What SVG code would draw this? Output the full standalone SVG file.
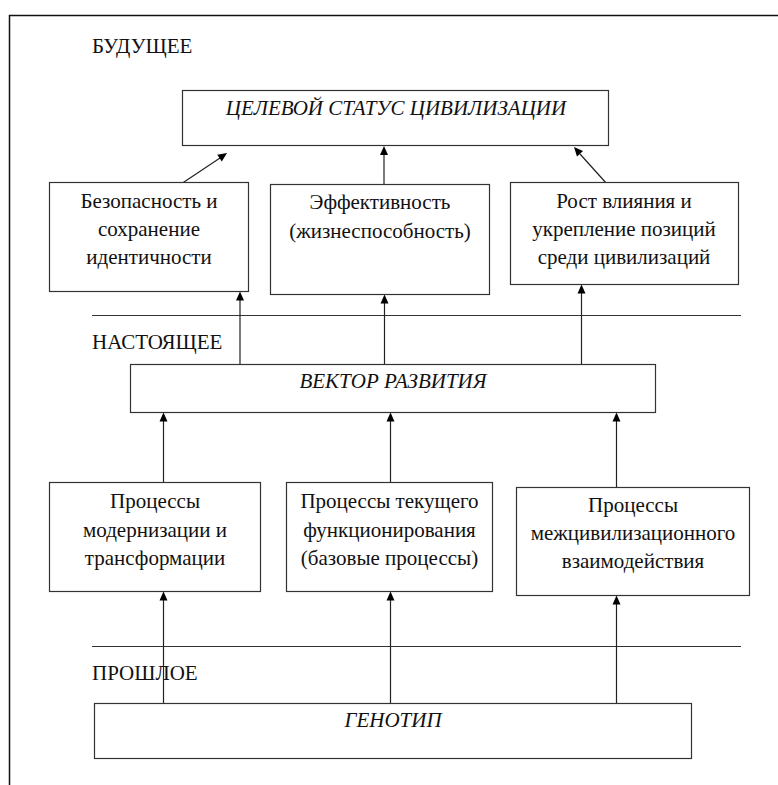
<svg xmlns="http://www.w3.org/2000/svg" width="778" height="785" viewBox="0 0 778 785" style="font-family:'Liberation Serif',serif">
<style>
svg text, g text, text{font-family:'Liberation Serif',serif !important}
</style>
<rect x="0" y="0" width="778" height="785" fill="#fff"/>
<path d="M9.5,785 V15.5 H778" fill="none" stroke="#111" stroke-width="1.5"/>
<g id="labels" font-family="'Liberation Serif', serif" font-size="21" fill="#111">
<text x="92" y="53" style="font-family:'Liberation Serif',serif !important">БУДУЩЕЕ</text>
<text x="92" y="349" style="font-family:'Liberation Serif',serif !important">НАСТОЯЩЕЕ</text>
<text x="92" y="680" style="font-family:'Liberation Serif',serif !important">ПРОШЛОЕ</text>
</g>
<g id="separators" stroke="#333" stroke-width="1.2">
<line x1="92" y1="315.5" x2="741" y2="315.5"/>
<line x1="92" y1="646.5" x2="741" y2="646.5"/>
</g>
<g id="connectors" stroke="#222" stroke-width="1.2" fill="#000">
<line x1="181" y1="184" x2="220" y2="158"/>
<polygon stroke="none" points="227,153 221.8,161.4 217.3,154.7"/>
<line x1="384" y1="184" x2="384" y2="150"/>
<polygon stroke="none" points="384,146 380,155 388,155"/>
<line x1="607" y1="184" x2="580" y2="154"/>
<polygon stroke="none" points="574,147 583,151 577,156.4"/>
<line x1="240" y1="364" x2="240" y2="296"/>
<polygon stroke="none" points="240,291.5 236,300.5 244,300.5"/>
<line x1="384.5" y1="364" x2="384.5" y2="298"/>
<polygon stroke="none" points="384.5,294.5 380.5,303.5 388.5,303.5"/>
<line x1="581.5" y1="364" x2="581.5" y2="289"/>
<polygon stroke="none" points="581.5,284.5 577.5,293.5 585.5,293.5"/>
<line x1="163.5" y1="482" x2="163.5" y2="417"/>
<polygon stroke="none" points="163.5,412.5 159.5,421.5 167.5,421.5"/>
<line x1="390.5" y1="482" x2="390.5" y2="417"/>
<polygon stroke="none" points="390.5,412.5 386.5,421.5 394.5,421.5"/>
<line x1="616.5" y1="487" x2="616.5" y2="417"/>
<polygon stroke="none" points="616.5,412.5 612.5,421.5 620.5,421.5"/>
<line x1="163.5" y1="704" x2="163.5" y2="596"/>
<polygon stroke="none" points="163.5,591.5 159.5,600.5 167.5,600.5"/>
<line x1="390.5" y1="704" x2="390.5" y2="596"/>
<polygon stroke="none" points="390.5,591.5 386.5,600.5 394.5,600.5"/>
<line x1="616.5" y1="704" x2="616.5" y2="600"/>
<polygon stroke="none" points="616.5,595.5 612.5,604.5 620.5,604.5"/>
</g>
<g id="goal" font-family="'Liberation Serif', serif" font-size="21" fill="#111" text-anchor="middle">
<rect x="182.5" y="90.5" width="426" height="55" fill="#fff" stroke="#333" stroke-width="1.2"/>
<text x="396" y="115" font-style="italic" style="font-family:'Liberation Serif',serif !important">ЦЕЛЕВОЙ СТАТУС ЦИВИЛИЗАЦИИ</text>
</g>
<g id="security" font-family="'Liberation Serif', serif" font-size="21" fill="#111" text-anchor="middle">
<rect x="49.5" y="182.5" width="199" height="109" fill="#fff" stroke="#333" stroke-width="1.2"/>
<text x="149" y="208" style="font-family:'Liberation Serif',serif !important">Безопасность и</text>
<text x="149" y="236" style="font-family:'Liberation Serif',serif !important">сохранение</text>
<text x="149" y="264" style="font-family:'Liberation Serif',serif !important">идентичности</text>
</g>
<g id="efficiency" font-family="'Liberation Serif', serif" font-size="21" fill="#111" text-anchor="middle">
<rect x="270.5" y="184.5" width="219" height="110" fill="#fff" stroke="#333" stroke-width="1.2"/>
<text x="380" y="209" style="font-family:'Liberation Serif',serif !important">Эффективность</text>
<text x="380" y="238" style="font-family:'Liberation Serif',serif !important">(жизнеспособность)</text>
</g>
<g id="influence" font-family="'Liberation Serif', serif" font-size="21" fill="#111" text-anchor="middle">
<rect x="510.5" y="182.5" width="228" height="102" fill="#fff" stroke="#333" stroke-width="1.2"/>
<text x="624" y="208" style="font-family:'Liberation Serif',serif !important">Рост влияния и</text>
<text x="624" y="236" style="font-family:'Liberation Serif',serif !important">укрепление позиций</text>
<text x="624" y="264" style="font-family:'Liberation Serif',serif !important">среди цивилизаций</text>
</g>
<g id="vector" font-family="'Liberation Serif', serif" font-size="21" fill="#111" text-anchor="middle">
<rect x="130.5" y="364.5" width="525" height="48" fill="#fff" stroke="#333" stroke-width="1.2"/>
<text x="393" y="388" font-style="italic" style="font-family:'Liberation Serif',serif !important">ВЕКТОР РАЗВИТИЯ</text>
</g>
<g id="modernization" font-family="'Liberation Serif', serif" font-size="21" fill="#111" text-anchor="middle">
<rect x="49.5" y="482.5" width="211" height="109" fill="#fff" stroke="#333" stroke-width="1.2"/>
<text x="155" y="508" style="font-family:'Liberation Serif',serif !important">Процессы</text>
<text x="155" y="537" style="font-family:'Liberation Serif',serif !important">модернизации и</text>
<text x="155" y="565" style="font-family:'Liberation Serif',serif !important">трансформации</text>
</g>
<g id="functioning" font-family="'Liberation Serif', serif" font-size="21" fill="#111" text-anchor="middle">
<rect x="286.5" y="482.5" width="206" height="109" fill="#fff" stroke="#333" stroke-width="1.2"/>
<text x="389.5" y="508" style="font-family:'Liberation Serif',serif !important">Процессы текущего</text>
<text x="389.5" y="537" style="font-family:'Liberation Serif',serif !important">функционирования</text>
<text x="389.5" y="565" style="font-family:'Liberation Serif',serif !important">(базовые процессы)</text>
</g>
<g id="intercivilizational" font-family="'Liberation Serif', serif" font-size="21" fill="#111" text-anchor="middle">
<rect x="516.5" y="487.5" width="233" height="108" fill="#fff" stroke="#333" stroke-width="1.2"/>
<text x="633" y="512" style="font-family:'Liberation Serif',serif !important">Процессы</text>
<text x="633" y="540" style="font-family:'Liberation Serif',serif !important">межцивилизационного</text>
<text x="633" y="568" style="font-family:'Liberation Serif',serif !important">взаимодействия</text>
</g>
<g id="genotype" font-family="'Liberation Serif', serif" font-size="21" fill="#111" text-anchor="middle">
<rect x="94.5" y="703.5" width="597" height="55" fill="#fff" stroke="#333" stroke-width="1.2"/>
<text x="393" y="727" font-style="italic" style="font-family:'Liberation Serif',serif !important">ГЕНОТИП</text>
</g>
</svg>
